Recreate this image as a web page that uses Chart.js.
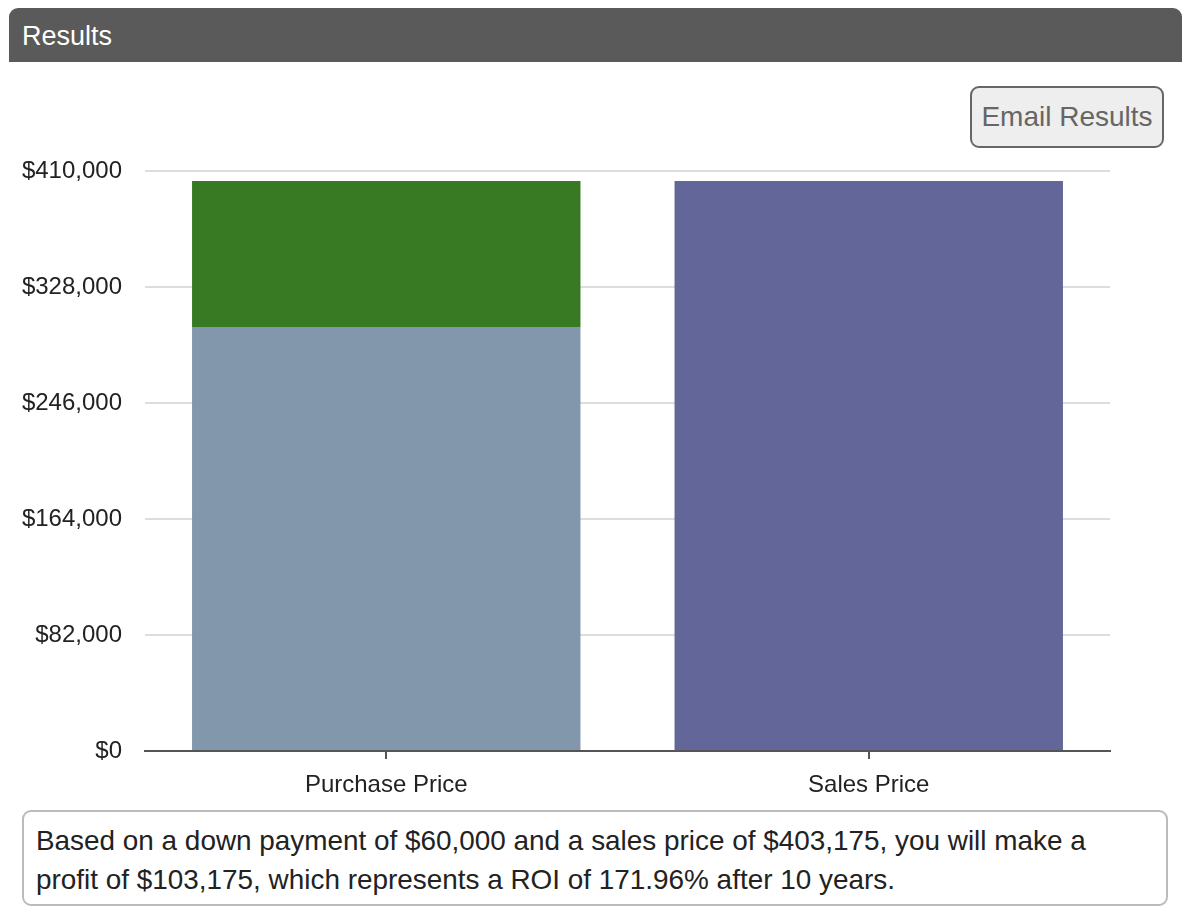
<!DOCTYPE html>
<html>
<head>
<meta charset="utf-8">
<script src="https://cdn.jsdelivr.net/npm/chart.js@4"></script>
<style>
  body { margin: 0; background: #fff; font-family: "Liberation Sans", Arial, sans-serif; }
  #wrap { position: relative; width: 1192px; height: 920px; }
  .header { position: absolute; left: 9px; top: 8px; width: 1173px; height: 54px; background: #5a5a5a;
            border-radius: 9px 9px 0 0; color: #fff; font-size: 27px; line-height: 56px; box-sizing: border-box; padding-left: 13px; }
  .btn { position: absolute; left: 970px; top: 86px; width: 194px; height: 62px; box-sizing: border-box;
         background: #eee; border: 2px solid #666; border-radius: 9px; color: #666; font-size: 28px;
         text-align: center; line-height: 58px; }
  .chartbox { position: absolute; left: 0; top: 134px; width: 1120px; height: 676px; }
  .note { position: absolute; left: 22px; top: 810px; width: 1146px; height: 96px; box-sizing: border-box;
          border: 2px solid #bbb; border-radius: 9px; padding: 9px 12px; font-size: 27.9px; line-height: 39px; color: #222; white-space: nowrap; }
</style>
</head>
<body>
<div id="wrap">
  <div class="header">Results</div>
  <div class="btn">Email Results</div>
  <div class="chartbox"><canvas id="grafico"></canvas></div>
  <div class="note">Based on a down payment of $60,000 and a sales price of $403,175, you will make a<br>profit of $103,175, which represents a ROI of 171.96% after 10 years.</div>
</div>
<script>
var categorias = ['Purchase Price', 'Sales Price'];
var base = [300000, 0];
var ganancia = [103175, 0];
var venta = [0, 403175];
var yMax = 410000;
var yStep = 82000;

var ctx = document.getElementById('grafico').getContext('2d');
var grafico = new Chart(ctx, {
    type: 'bar',
    data: {
        labels: categorias,
        datasets: [
            { label: 'Purchase', data: base, backgroundColor: 'rgb(130,151,172)' },
            { label: 'Profit', data: ganancia, backgroundColor: 'rgb(56,122,35)' },
            { label: 'Sales', data: venta, backgroundColor: 'rgb(99,102,152)' }
        ]
    },
    options: {
        responsive: true,
        maintainAspectRatio: false,
        animation: false,
        layout: { padding: { top: 4, right: 10, left: 0, bottom: 0 } },
        datasets: { bar: { barPercentage: 0.805, categoryPercentage: 1.0 } },
        plugins: { legend: { display: false }, tooltip: { enabled: false } },
        scales: {
            x: {
                stacked: true,
                afterFit: function(scale) { scale.height = 59; },
                border: { color: '#555', width: 2 },
                grid: { offset: false, drawOnChartArea: false, drawTicks: true, tickLength: 8, color: '#555', lineWidth: 2 },
                ticks: { color: '#222', font: { family: 'Liberation Sans', size: 24 }, padding: 12 }
            },
            y: {
                stacked: true,
                min: 0,
                max: yMax,
                afterFit: function(scale) { scale.width = 145; },
                border: { display: false },
                grid: { color: '#ddd', lineWidth: 2, drawTicks: false },
                ticks: {
                    stepSize: yStep,
                    padding: 23,
                    color: '#222',
                    font: { family: 'Liberation Sans', size: 24 },
                    callback: function(v) { return '$' + v.toLocaleString('en-US'); }
                }
            }
        }
    }
});
</script>
</body>
</html>
